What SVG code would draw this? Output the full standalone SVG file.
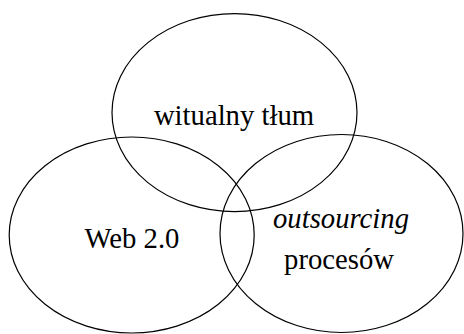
<svg xmlns="http://www.w3.org/2000/svg" width="464" height="334" viewBox="0 0 464 334">
<style>
.c{fill:none;stroke:#000;stroke-width:1.2}
.t{font-family:"Liberation Serif","Times New Roman",serif;font-size:28.7px;fill:#000;text-anchor:middle}
</style>
<rect width="464" height="334" fill="#fff"/>
<g id="web20"><ellipse class="c" cx="131.7" cy="235" rx="122.5" ry="98"/><text class="t" x="132" y="247.5">Web 2.0</text></g>
<g id="outsourcing"><ellipse class="c" cx="341.5" cy="233.5" rx="121.5" ry="99"/><text class="t" x="341" y="227.5" font-style="italic">outsourcing</text><text class="t" x="339" y="268.5">procesów</text></g>
<g id="tlum"><ellipse class="c" cx="234.5" cy="112.6" rx="122.5" ry="99"/><text class="t" x="234" y="124.5">witualny tłum</text></g>
<g id="connectors"/>
</svg>
